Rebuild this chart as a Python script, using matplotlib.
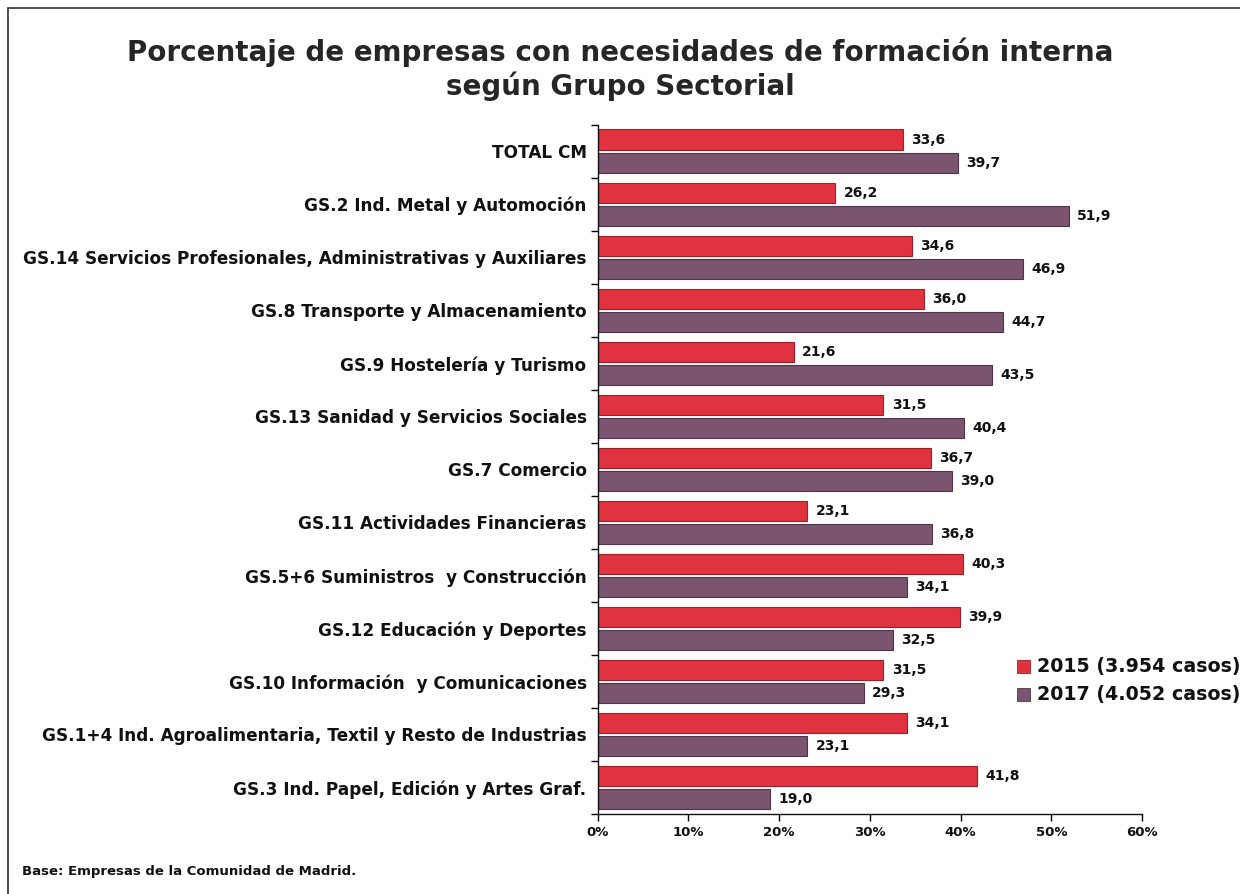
import matplotlib
matplotlib.use("Agg")
import matplotlib.pyplot as plt
from matplotlib.patches import Rectangle
import numpy as np

categories = [
    "TOTAL CM",
    "GS.2 Ind. Metal y Automoción",
    "GS.14 Servicios Profesionales, Administrativas y Auxiliares",
    "GS.8 Transporte y Almacenamiento",
    "GS.9 Hostelería y Turismo",
    "GS.13 Sanidad y Servicios Sociales",
    "GS.7 Comercio",
    "GS.11 Actividades Financieras",
    "GS.5+6 Suministros  y Construcción",
    "GS.12 Educación y Deportes",
    "GS.10 Información  y Comunicaciones",
    "GS.1+4 Ind. Agroalimentaria, Textil y Resto de Industrias",
    "GS.3 Ind. Papel, Edición y Artes Graf.",
]
values_2015 = [33.6, 26.2, 34.6, 36.0, 21.6, 31.5, 36.7, 23.1, 40.3, 39.9, 31.5, 34.1, 41.8]
values_2017 = [39.7, 51.9, 46.9, 44.7, 43.5, 40.4, 39.0, 36.8, 34.1, 32.5, 29.3, 23.1, 19.0]
series_labels = ["2015 (3.954 casos)", "2017 (4.052 casos)"]
xticks = [0, 10, 20, 30, 40, 50, 60]

red = "#E0323F"
purple = "#7B5470"
red_edge = "#9E1F2A"
purple_edge = "#4F3447"

plt.rcParams['font.family'] = ['DejaVu Sans']
fig = plt.figure(figsize=(12.4, 8.94), dpi=100)
ax = fig.add_axes([0.482, 0.0895, 0.439, 0.771])

n = len(categories)
y = np.arange(n)
h = 0.38
off = 0.22
ax.barh(y - off, values_2015, height=h, color=red, edgecolor=red_edge, linewidth=0.8)
ax.barh(y + off, values_2017, height=h, color=purple, edgecolor=purple_edge, linewidth=0.8)

for yi, v in zip(y, values_2015):
    ax.text(v + 0.9, yi - off, f"{v:.1f}".replace(".", ","), va="center", ha="left",
            fontsize=10, fontweight="bold", color="#111111")
for yi, v in zip(y, values_2017):
    ax.text(v + 0.9, yi + off, f"{v:.1f}".replace(".", ","), va="center", ha="left",
            fontsize=10, fontweight="bold", color="#111111")

ax.set_ylim(n - 0.5, -0.5)
ax.set_xlim(0, 60)
ax.set_yticks(np.arange(n + 1) - 0.5, minor=False)
ax.set_yticklabels([])
ax.set_yticks(y, minor=True)
ax.set_yticklabels(categories, minor=True, fontsize=12.2, fontweight="bold", color="#111111")
ax.tick_params(axis="y", which="minor", length=0, pad=8)
ax.tick_params(axis="y", which="major", length=5, width=1, direction="out")
ax.set_xticks(xticks)
ax.set_xticklabels([f"{t}%" for t in xticks], fontsize=9.5, fontweight="bold", color="#111111")
ax.tick_params(axis="x", length=5, width=1, direction="out", pad=4)
for s in ["top", "right"]:
    ax.spines[s].set_visible(False)
for s in ["left", "bottom"]:
    ax.spines[s].set_color("#111111")
    ax.spines[s].set_linewidth(1)

fig.text(0.5, 0.941, "Porcentaje de empresas con necesidades de formación interna",
         ha="center", va="center", fontsize=20, fontweight="bold", color="#262626")
fig.text(0.5, 0.904, "según Grupo Sectorial",
         ha="center", va="center", fontsize=20, fontweight="bold", color="#262626")

# legend
for i, (lab, col, ec) in enumerate(zip(series_labels, [red, purple], [red_edge, purple_edge])):
    yy = 1 - (665 + 28 * i) / 894
    fig.patches.append(Rectangle((1017 / 1240, yy - 0.0085), 13 / 1240, 13 / 894, transform=fig.transFigure,
                                 facecolor=col, edgecolor=ec, linewidth=0.6))
    fig.text(1037 / 1240, yy - 0.002, lab, ha="left", va="center", fontsize=13.7,
             fontweight="bold", color="#111111")

fig.text(22 / 1240, 1 - 872 / 894, "Base: Empresas de la Comunidad de Madrid.",
         ha="left", va="center", fontsize=9.5, fontweight="bold", color="#111111")

fig.patches.append(Rectangle((8 / 1240, -0.1), 1.2, 1 - 8 / 894 + 0.1, transform=fig.transFigure,
                             fill=False, edgecolor="#333333", linewidth=1.2))

fig.savefig("out.png", dpi=100)
